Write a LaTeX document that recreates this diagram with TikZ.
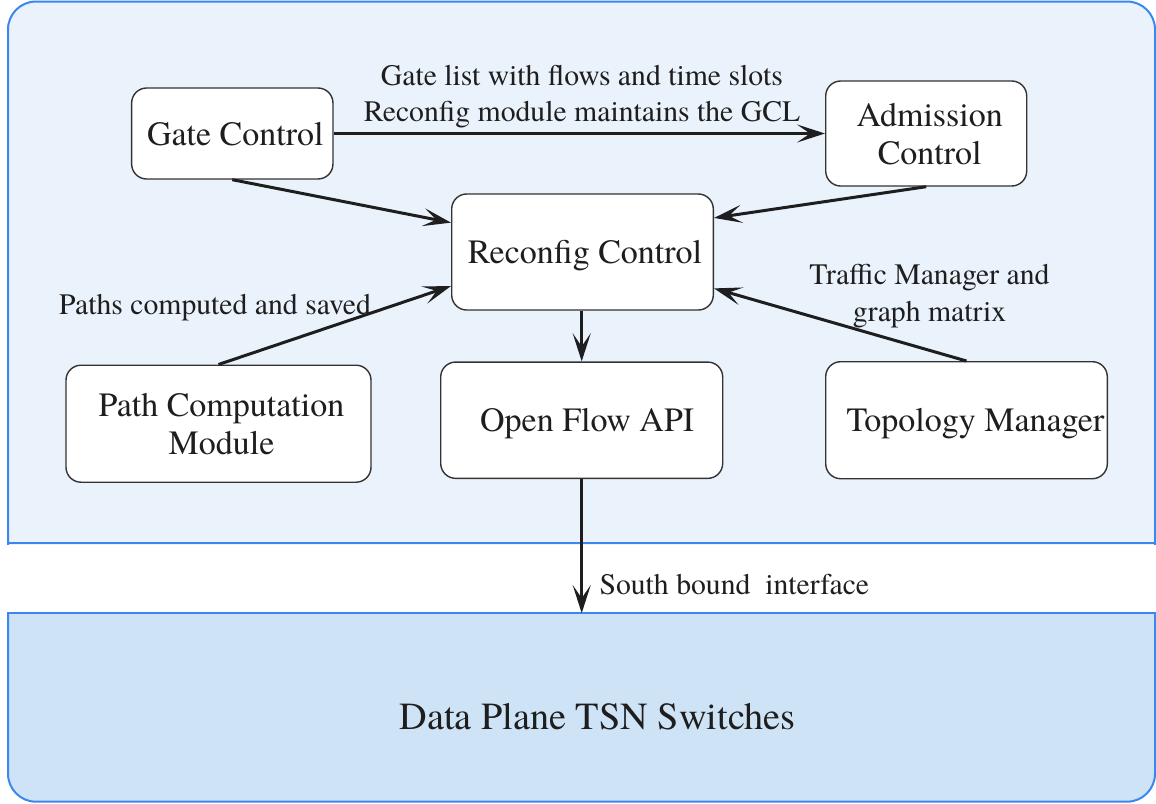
\documentclass[tikz,border=0pt]{standalone}
\usepackage{fontspec}
\setmainfont{texgyretermes}[Extension=.otf, UprightFont=*-regular, BoldFont=*-bold, ItalicFont=*-italic, BoldItalicFont=*-bolditalic]
\usetikzlibrary{arrows.meta,calc}
\definecolor{panelfill}{HTML}{EAF3FC}
\definecolor{dpfill}{HTML}{CFE3F7}
\definecolor{panelline}{HTML}{3A87F2}
\definecolor{ink}{HTML}{1E1E1E}
\definecolor{boxline}{HTML}{333333}
\newcommand\mynodefont{\fontsize{34}{38}\selectfont}
\newcommand\mylblfont{\fontsize{29.7}{36.5}\selectfont}
\newcommand\mydpfont{\fontsize{38.3}{44}\selectfont}
\begin{document}
\begin{tikzpicture}[x=1pt,y=-1pt,
  box/.style={draw=boxline, line width=1.4pt, fill=white, rounded corners=15pt,
    font=\mynodefont, text=ink, text depth=0pt, align=center, inner sep=0pt},
  conn/.style={line width=3pt, draw=ink, -{Stealth[length=28pt,width=18pt,inset=13pt]}},
  lbl/.style={font=\mylblfont, text=ink, inner sep=0pt, align=center},
  panel/.style={draw=panelline, line width=2pt}]
\fill[white] (0,0) rectangle (1156,803);
\useasboundingbox (0,0) rectangle (1156,803);
% top panel
\begin{scope}
  \clip (0,0) rectangle (1156,544.3);
  \draw[panel, fill=panelfill, rounded corners=28pt] (8,1.5) rectangle (1155,600);
\end{scope}
\draw[panel] (8,543.3) -- (1155,543.3);
% bottom panel
\begin{scope}
  \clip (0,612.3) rectangle (1156,803);
  \draw[panel, fill=dpfill, rounded corners=28pt] (8,560) rectangle (1155,801.7);
\end{scope}
\draw[panel] (8,613.3) -- (1155,613.3);
\node[minimum width=1147pt, minimum height=188.4pt, inner sep=0pt] (dpbox) at (581.5,707.5) {};
\node[font=\mydpfont, text=ink, anchor=base, inner sep=0pt] (dptext) at (597.5,729) {Data Plane TSN Switches};

% boxes
\node[box, minimum width=201.3pt, minimum height=91pt] (gate) at (232.3,133.5) {\hspace*{6pt}Gate Control};
\node[box, minimum width=201pt, minimum height=105pt] (adm) at (926.2,133.5) {\hspace*{7pt}Admission\\\hspace*{7pt}Control};
\node[box, minimum width=261.6pt, minimum height=116pt] (reconf) at (582.5,252) {\hspace*{5pt}Reconfig Control};
\node[box, minimum width=305pt, minimum height=117pt] (path) at (218.5,423.7) {\hspace*{6pt}Path Computation\\\hspace*{6pt}Module};
\node[box, minimum width=282pt, minimum height=116.3pt] (of) at (581.7,420.2) {\hspace*{11pt}Open Flow API};
\node[box, minimum width=281.6pt, minimum height=117pt] (topo) at (966.5,420.2) {\hspace*{18pt}Topology Manager};

% connectors
\draw[conn] (gate) -- (adm);
\draw[conn] (gate.south) -- ($(reconf.north west)!0.25!(reconf.south west)$);
\draw[conn] (adm.south) -- ($(reconf.north east)!0.21!(reconf.south east)$);
\draw[conn] (path.north) -- ($(reconf.north west)!0.79!(reconf.south west)$);
\draw[conn] (topo.north) -- ($(reconf.north east)!0.81!(reconf.south east)$);
\draw[conn] (of.north |- reconf.south) -- (of.north);
\draw[conn] (of.south) -- (of.south |- dpbox.north);

% labels
\node[lbl] (glbl) at (582,96.4) {Gate list with flows and time slots\\Reconfig module maintains the GCL};
\node[lbl, anchor=base west] (plbl) at (59,314) {Paths computed and saved};
\node[lbl] (tlbl) at (929.5,295.9) {Traffic Manager and\\graph matrix};
\node[lbl, anchor=base west] (slbl) at (599.3,594) {South bound\ \ interface};
\end{tikzpicture}
\end{document}
